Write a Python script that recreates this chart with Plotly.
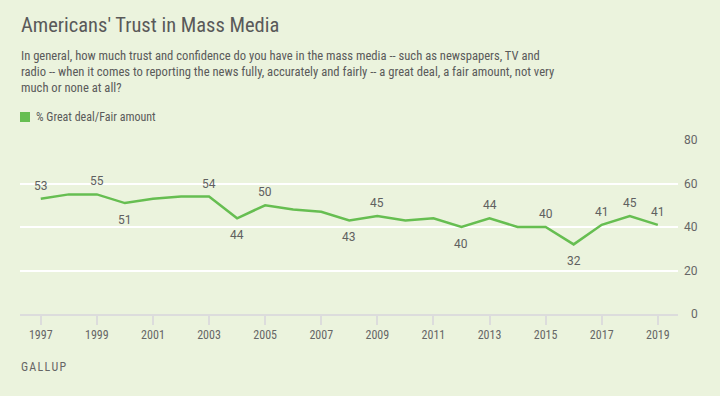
import plotly.graph_objects as go

years = list(range(1997, 2020))
values = [53, 55, 55, 51, 53, 54, 54, 44, 50, 48, 47, 43, 45, 43, 44, 40, 44, 40, 40, 32, 41, 45, 41]

label_years = [1997, 1999, 2000, 2003, 2004, 2005, 2008, 2009, 2012, 2013, 2015, 2016, 2017, 2018, 2019]
label_pos = ["above", "above", "below", "above", "below", "above", "below", "above", "below",
             "above", "above", "below", "above", "above", "above"]

x_ticks = list(range(1997, 2020, 2))
y_ticks = [0, 20, 40, 60, 80]

title = "Americans' Trust in Mass Media"
subtitle_lines = [
    "In general, how much trust and confidence do you have in the mass media -- such as newspapers, TV and",
    "radio -- when it comes to reporting the news fully, accurately and fairly -- a great deal, a fair amount, not very",
    "much or none at all?",
]
legend_label = "% Great deal/Fair amount"
source = "GALLUP"

BG = "#EBF3DD"
GREEN = "#66BE51"
TXT = "#5a5a5a"
COND = "Liberation Sans Narrow, Roboto Condensed, Roboto, sans-serif"
REG = "Roboto, Liberation Sans, sans-serif"

W, H = 720, 396
L, R, T, B = 20, 678, 140, 314


def px(X):
    return (X - L) / (R - L)


def py(Y):
    return (B - Y) / (B - T)


fig = go.Figure()
fig.add_trace(go.Scatter(x=years, y=values, mode="lines",
                         line=dict(color=GREEN, width=2.5), hoverinfo="x+y", showlegend=False))

ann = []
val_by_year = dict(zip(years, values))
for yr, pos in zip(label_years, label_pos):
    v = val_by_year[yr]
    ann.append(dict(x=yr, y=v, xref="x", yref="y", text=str(v), showarrow=False,
                    yshift=13 if pos == "above" else -17,
                    font=dict(family=REG, size=12, color="#606060")))

for t in y_ticks:
    ann.append(dict(x=px(700), y=t, xref="paper", yref="y", text=str(t), showarrow=False,
                    xanchor="right", font=dict(family=REG, size=12, color="#666")))

ann.append(dict(x=px(19), y=py(25), xref="paper", yref="paper", text=title, showarrow=False,
                xanchor="left", yanchor="middle", font=dict(family=COND, size=20.5, color="#595959")))
for i, line in enumerate(subtitle_lines):
    ann.append(dict(x=px(19), y=py(55 + 16.5 * i), xref="paper", yref="paper", text=line,
                    showarrow=False, xanchor="left", yanchor="middle",
                    font=dict(family=COND, size=12.6, color=TXT)))
ann.append(dict(x=px(34), y=py(117), xref="paper", yref="paper", text=legend_label, showarrow=False,
                xanchor="left", yanchor="middle", font=dict(family=COND, size=12, color=TXT)))
ann.append(dict(x=px(19), y=py(367), xref="paper", yref="paper",
                text="\u200a".join(source), showarrow=False,
                xanchor="left", yanchor="middle", font=dict(family=COND, size=12, color="#666")))

shapes = [dict(type="rect", xref="paper", yref="paper", x0=px(20), x1=px(30), y0=py(122), y1=py(112),
               fillcolor=GREEN, line=dict(width=0))]

fig.update_layout(
    width=W, height=H,
    margin=dict(l=L, r=W - R, t=T, b=H - B, pad=0),
    paper_bgcolor=BG, plot_bgcolor=BG,
    annotations=ann, shapes=shapes,
    showlegend=False,
    xaxis=dict(range=[1996.26, 2019.72], tickmode="array", tickvals=x_ticks,
               ticktext=[str(x) for x in x_ticks], ticks="outside", ticklen=9, tickwidth=2,
               tickcolor="#dcdcdc", showgrid=False, zeroline=False, showline=True,
               linecolor="#dcdcdc", linewidth=2,
               tickfont=dict(family=COND, size=12, color="#666"), fixedrange=True),
    yaxis=dict(range=[0, 80], tickvals=y_ticks, showticklabels=False, showgrid=True,
               gridcolor="#ffffff", gridwidth=2, zeroline=False, fixedrange=True),
)

fig.write_html("out.html", config={"displayModeBar": False},
               post_script="document.body.style.margin='0';document.body.style.background='" + BG + "';")
